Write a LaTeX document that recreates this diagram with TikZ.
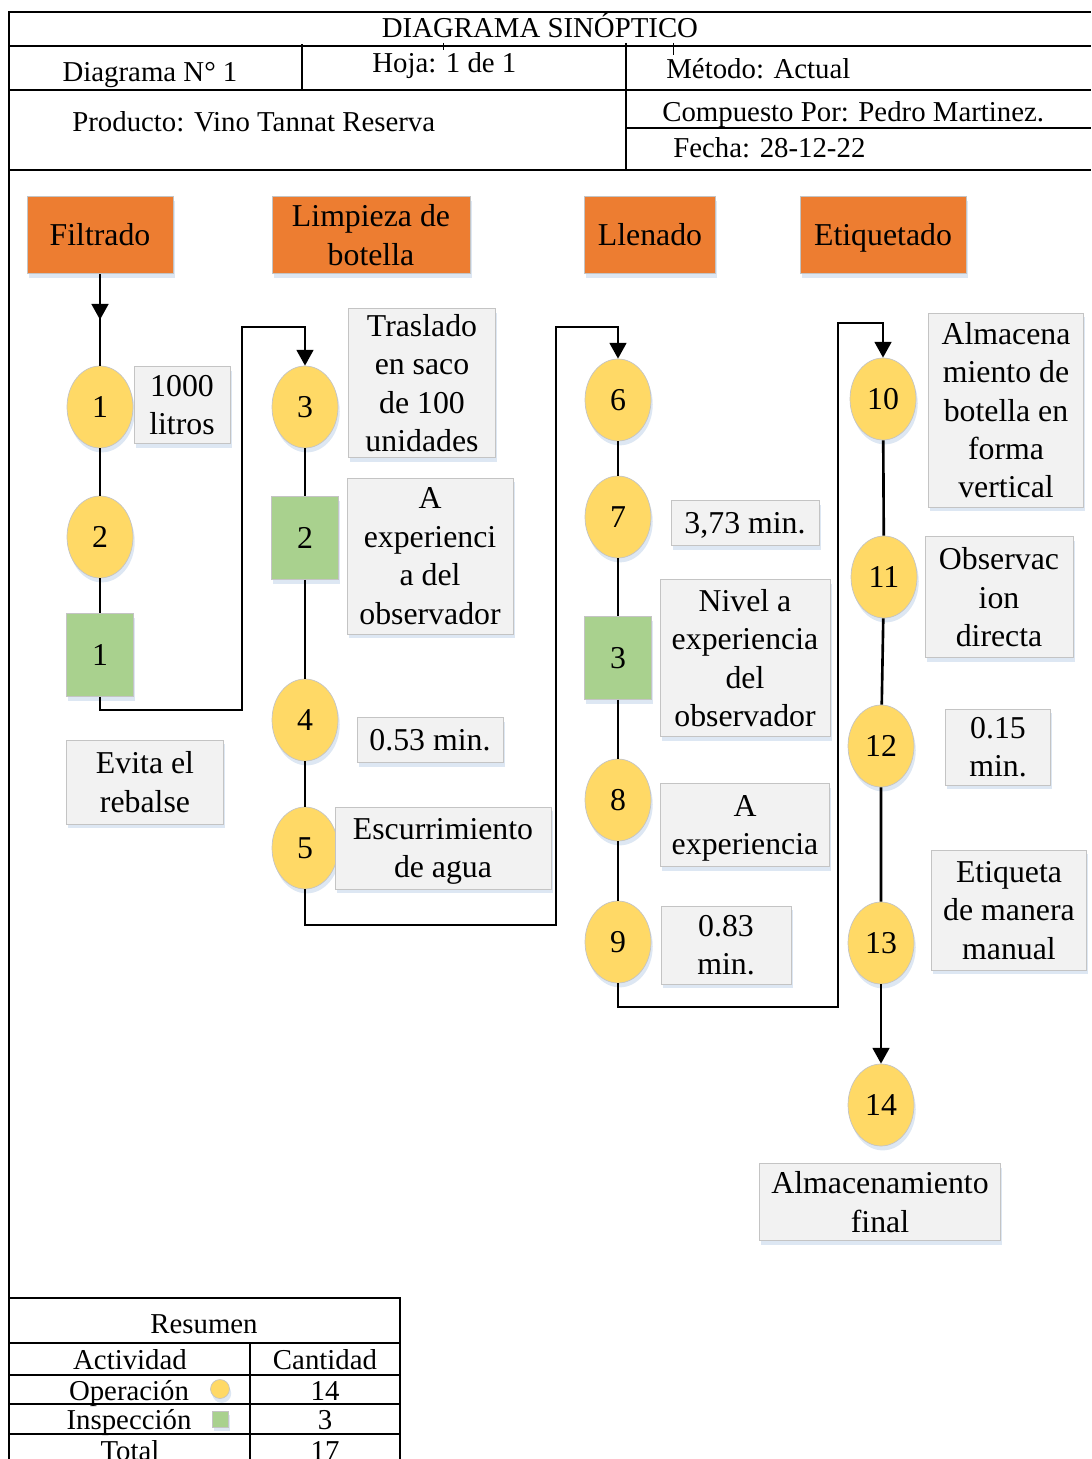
\documentclass[tikz,border=0pt]{standalone}
\usepackage{fontspec}
\setmainfont{Liberation Serif}
\usetikzlibrary{arrows.meta,shapes.geometric,shadows,decorations.markings}
\definecolor{proc}{HTML}{ED7D31}
\definecolor{oper}{HTML}{FFD966}
\definecolor{insp}{HTML}{A9D18E}
\definecolor{nota}{HTML}{F2F2F2}
\definecolor{borde}{HTML}{C4C4C4}
\definecolor{sombra}{HTML}{D5E1F0}
\newcommand{\pilar}{\rule[-0.22em]{0pt}{1.11em}}
\begin{document}
\begin{tikzpicture}[x=0.02cm,y=-0.02cm,
		font=\fontsize{18.1}{21.9}\selectfont,
		marco/.style={line width=1.5pt},
		linea/.style={line width=1.5pt},
		flecha/.style={-{Triangle[length=9pt,width=9.5pt]}},
		medio/.style={postaction={decorate},decoration={markings,mark=at position 0.5 with {\arrow{Triangle[length=9pt,width=9.5pt]}}}},
		sombreado/.style={drop shadow={shadow xshift=1pt,shadow yshift=-2.5pt,fill=sombra,opacity=0.8}},
		renglon/.style={execute at begin node=\pilar,execute at end node=\pilar},
		renglones/.style={text depth=0pt},
		caja/.style 2 args={draw=borde,sombreado,align=center,inner sep=0pt,minimum width=#1,minimum height=#2},
		proceso/.style 2 args={caja={#1}{#2},fill=proc,renglon},
		proceso2/.style 2 args={caja={#1}{#2},fill=proc,renglones},
		nota/.style 2 args={caja={#1}{#2},fill=nota,renglones},
		nota1/.style 2 args={caja={#1}{#2},fill=nota,renglon},
		op/.style={ellipse,draw=borde,fill=oper,sombreado,inner sep=0pt,minimum width=1.32cm,minimum height=1.64cm},
		insp/.style={rectangle,draw=borde,fill=insp,sombreado,inner sep=0pt,minimum width=1.34cm,minimum height=1.66cm},
		cab/.style={font=\fontsize{16.4}{19}\selectfont,inner sep=0pt}]
	\useasboundingbox (0,0) rectangle (1091,1459);

	\draw[marco] (9,1459) -- (9,12) -- (1091,12);
	\draw[marco] (9,46) -- (1091,46);
	\draw[marco] (9,90) -- (1091,90);
	\draw[marco] (626,128) -- (1091,128);
	\draw[marco] (9,170) -- (1091,170);
	\draw[marco] (302,44) -- (302,90);
	\draw[marco] (626,43) -- (626,170);
	\draw (443,43) -- (443,50);
	\draw (673,43) -- (673,55);
	\draw (540,38) node (titulo)[cab,anchor=base]{DIAGRAMA SINÓPTICO};
	\draw (150,82) node (diag)[cab,anchor=base]{Diagrama N° 1};
	\draw (372,73) node (hoja)[cab,anchor=base west]{Hoja: 1 de 1};
	\draw (666,79) node (metodo)[cab,anchor=base west]{Método: Actual};
	\draw (72,132) node (prod)[cab,anchor=base west]{Producto: Vino Tannat Reserva};
	\draw (662,122) node (comp)[cab,anchor=base west]{Compuesto Por: Pedro Martinez.};
	\draw (673,158) node (fecha)[cab,anchor=base west]{Fecha: 28-12-22};

	\draw (100,235) node (filtrado)[proceso={2.92cm}{1.54cm}]{Filtrado};
	\draw (371,235) node (limpieza)[proceso2={3.96cm}{1.54cm}]{Limpieza de\\botella};
	\draw (650,235) node (llenado)[proceso={2.62cm}{1.54cm}]{Llenado};
	\draw (883,235) node (etiquetado)[proceso={3.32cm}{1.54cm}]{Etiquetado};

	\draw (100,407) node (o1)[op]{1};
	\draw (100,537) node (o2)[op]{2};
	\draw (100,655) node (i1)[insp]{1};
	\draw (305,407) node (o3)[op]{3};
	\draw (305,538) node (i2)[insp]{2};
	\draw (305,720) node (o4)[op]{4};
	\draw (305,848) node (o5)[op]{5};
	\draw (618,400) node (o6)[op]{6};
	\draw (618,517) node (o7)[op]{7};
	\draw (618,658) node (i3)[insp]{3};
	\draw (618,800) node (o8)[op]{8};
	\draw (618,942) node (o9)[op]{9};
	\draw (883,399) node (o10)[op]{10};
	\draw (884,577) node (o11)[op]{11};
	\draw (881,746) node (o12)[op]{12};
	\draw (881,943) node (o13)[op]{13};
	\draw (881,1105) node (o14)[op]{14};

	\draw (182,405) node (n1)[nota={1.92cm}{1.54cm}]{1000\\litros};
	\draw (145,782) node (n2)[nota={3.14cm}{1.68cm}]{Evita el\\rebalse};
	\draw (422,383) node (n3)[nota={2.94cm}{2.98cm}]{Traslado\\en saco\\de 100\\unidades};
	\draw (430,556) node (n4)[nota={3.32cm}{3.12cm}]{A\\experienci\\a del\\observador};
	\draw (430,740) node (n5)[nota1={2.92cm}{0.9cm}]{0.53 min.};
	\draw (443,848) node (n6)[nota={4.32cm}{1.64cm}]{Escurrimiento\\de agua};
	\draw (745,523) node (n7)[nota1={2.96cm}{0.9cm}]{3,73 min.};
	\draw (745,658) node (n8)[nota={3.4cm}{3.14cm}]{Nivel a\\experiencia\\del\\observador};
	\draw (745,825) node (n9)[nota={3.38cm}{1.66cm}]{A\\experiencia};
	\draw (726,945) node (n10)[nota={2.6cm}{1.56cm}]{0.83\\min.};
	\draw (1006,410) node (n11)[nota={3.1cm}{3.88cm}]{Almacena\\miento de\\botella en\\forma\\vertical};
	\draw (999,597) node (n12)[nota={2.96cm}{2.42cm}]{Observac\\ion\\directa};
	\draw (998,747) node (n13)[nota={2.1cm}{1.52cm}]{0.15\\min.};
	\draw (1009,910) node (n14)[nota={3.1cm}{2.4cm}]{Etiqueta\\de manera\\manual};
	\draw (880,1202) node (n15)[nota={4.82cm}{1.54cm}]{Almacenamiento\\final};

	\coordinate (k1) at (242,710);
	\coordinate (k2) at (242,327);
	\coordinate (k3) at (556,925);
	\coordinate (k4) at (556,327);
	\coordinate (k5) at (838,1007);
	\coordinate (k6) at (838,323);
	\draw[linea,medio] (filtrado)--(o1);
	\draw[linea] (o1)--(o2)--(i1);
	\draw[linea,flecha] (i1) |- (k1) -- (k2) -| (o3);
	\draw[linea] (o3)--(i2)--(o4)--(o5);
	\draw[linea,flecha] (o5) |- (k3) -- (k4) -| (o6);
	\draw[linea] (o6)--(o7)--(i3)--(o8)--(o9);
	\draw[linea,flecha] (o9) |- (k5) -- (k6) -| (o10);
	\draw[linea] (o10)--(o11)--(o12)--(o13);
	\draw[linea,flecha] (o13)--(o14);

	\draw[marco] (9,1298) -- (400,1298) -- (400,1459);
	\draw[marco] (9,1343) -- (400,1343);
	\draw[marco] (9,1375) -- (400,1375);
	\draw[marco] (9,1404) -- (400,1404);
	\draw[marco] (9,1434) -- (400,1434);
	\draw[marco] (250,1343) -- (250,1459);
	\draw (204,1333) node (resumen)[cab,anchor=base]{Resumen};
	\draw (130,1369) node (actividad)[cab,anchor=base]{Actividad};
	\draw (325,1369) node (cantidad)[cab,anchor=base]{Cantidad};
	\draw (129,1400) node (operacion)[cab,anchor=base]{Operación};
	\draw (220,1389) node (simop)[circle,draw=borde,fill=oper,sombreado,inner sep=0pt,minimum size=0.38cm]{};
	\draw (325,1400) node (numop)[cab,anchor=base]{14};
	\draw (129,1429) node (inspeccion)[cab,anchor=base]{Inspección};
	\draw (220,1419) node (simin)[rectangle,draw=borde,fill=insp,sombreado,inner sep=0pt,minimum size=0.32cm]{};
	\draw (325,1429) node (numin)[cab,anchor=base]{3};
	\draw (130,1460) node (total)[cab,anchor=base]{Total};
	\draw (325,1460) node (numtot)[cab,anchor=base]{17};
\end{tikzpicture}
\end{document}
